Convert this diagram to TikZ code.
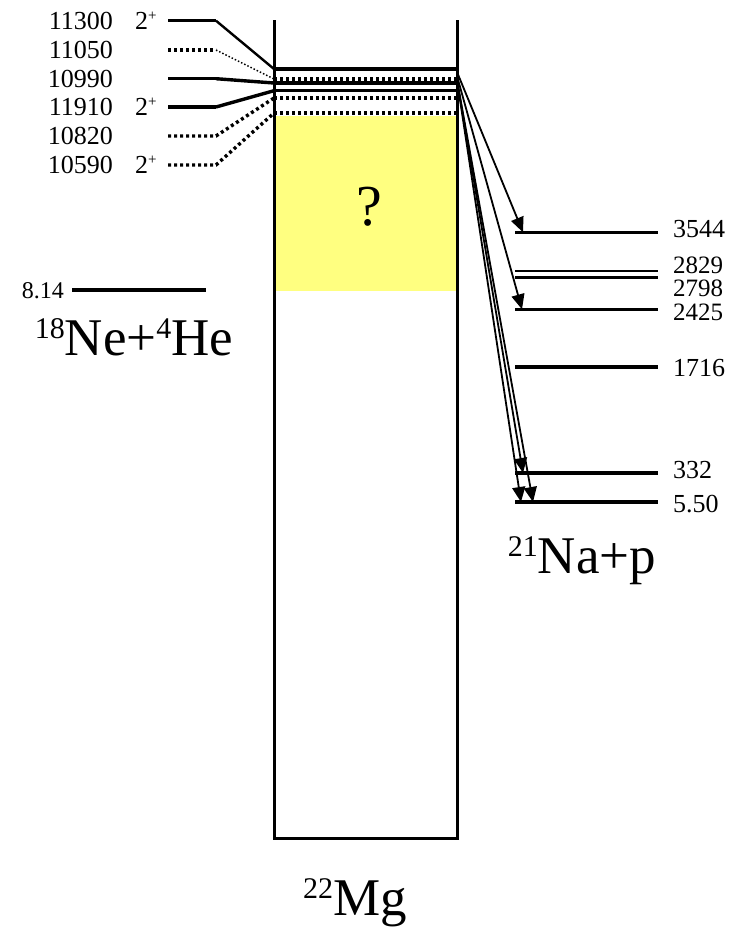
\documentclass[tikz,border=0pt]{standalone}
\usepackage{fontspec}
\setmainfont{Liberation Serif}
\usetikzlibrary{arrows.meta,positioning}
\definecolor{qyellow}{RGB}{255,255,128}
\newcommand{\fs}[1]{\fontsize{#1}{#1}\selectfont}
\newcommand{\iso}[2]{\raisebox{17pt}{\fs{30}#1}#2}
\newcommand{\spin}{2\raisebox{9pt}{\fs{15}+}}

\begin{document}
\begin{tikzpicture}[x=1pt, y=-1pt, every node/.style={inner sep=0pt},
  lvl/.style={line width=3.4pt},
  dlvl/.style={line width=3.4pt, dash pattern=on 3pt off 3pt},
  slant/.style={line width=2.4pt},
  wall/.style={line width=3pt},
  decay/.style={line width=1.8pt, -{Triangle[length=15pt,width=13pt]}},
  num/.style={font=\fs{26}, text height=18pt, text depth=0pt},
  big/.style={font=\fs{53}, anchor=base}]
\useasboundingbox (0,0) rectangle (742,927);

% 22Mg box
\coordinate (tl) at (274,20); \coordinate (bl) at (274,838);
\coordinate (br) at (457,838); \coordinate (tr) at (457,20);
\fill[qyellow] (274,116) rectangle (457,291);
\node[font=\fs{58}, anchor=base] (qmark) at (369,225) {?};
\draw[wall] (tl) -- (bl) -- (br) -- (tr);
\foreach \n/\y in {1/69,2/79,3/83,4/90.7,5/98,6/113}{
  \coordinate (m\n) at (274,\y); \coordinate (m\n r) at (457,\y);}
\draw[lvl] (m1) -- (m1r);
\draw[dlvl] (m2) -- (m2r);
\draw[lvl] (m3) -- (m3r);
\draw[lvl] (m4) -- (m4r);
\draw[dlvl] (m5) -- (m5r);
\draw[dlvl] (m6) -- (m6r);

% alpha-cluster states
\foreach \n/\y in {1/20.7,2/50,3/78.7,4/107,5/136,6/165}{
  \coordinate (k\n) at (168,\y); \coordinate (k\n e) at (216,\y);}
\draw[lvl] (k1) -- (k1e); \draw[slant] (k1e) -- (m1);
\draw[dlvl] (k2) -- (k2e); \draw[line width=1.5pt, dash pattern=on 1.5pt off 2pt] (k2e) -- (m2);
\draw[lvl] (k3) -- (k3e); \draw[lvl] (k3e) -- (m3);
\draw[lvl] (k4) -- (k4e); \draw[lvl] (k4e) -- (m4);
\draw[dlvl] (k5) -- (k5e) -- (m5);
\draw[dlvl] (k6) -- (k6e) -- (m6);
\node[num, anchor=base east] (e11300) at (113,29.3) {11300};
\node[num, anchor=base east] (e11050) at (113,58.6) {11050};
\node[num, anchor=base east] (e10990) at (113,87.3) {10990};
\node[num, anchor=base east] (e11910) at (113,115.6) {11910};
\node[num, anchor=base east] (e10820) at (113,144.6) {10820};
\node[num, anchor=base east] (e10590) at (113,173.6) {10590};
\node[num, anchor=base west] (j11300) at (135,29.3) {\spin};
\node[num, anchor=base west] (j11910) at (135,115.6) {\spin};
\node[num, anchor=base west] (j10590) at (135,173.6) {\spin};

% threshold
\coordinate (th1) at (72,290); \coordinate (th2) at (206,290);
\draw[lvl] (th1) -- (th2);
\node[font=\fs{24}, anchor=base east] (e814) at (64,298.5) {8.14};
\node[big] (nehe) at (134,355) {\iso{18}{Ne+}\iso{4}{He}};

% 21Na levels
\foreach \n/\y in {3544/232.3,2425/309.3,1716/367,332/473,550/502}{
  \coordinate (r\n) at (515,\y); \coordinate (r\n e) at (658,\y);
  \draw[lvl] (r\n) -- (r\n e);}
\foreach \n/\y in {2829/271,2798/277.7}{
  \coordinate (r\n) at (515,\y); \coordinate (r\n e) at (658,\y);
  \draw[line width=2.6pt] (r\n) -- (r\n e);}
\node[num, anchor=base west] (l3544) at (673,237) {3544};
\node[num, anchor=base west, font=\fs{25}] (l2829) at (673,273.5) {2829};
\node[num, anchor=base west, font=\fs{25}] (l2798) at (673,296) {2798};
\node[num, anchor=base west, font=\fs{25}] (l2425) at (673,320.5) {2425};
\node[num, anchor=base west] (l1716) at (673,376) {1716};
\node[num, anchor=base west] (l332) at (673,478) {332};
\node[num, anchor=base west] (l550) at (673,512) {5.50};
\node[big] (nap) at (582,573) {\iso{21}{Na+p}};
\node[big] (mg) at (355,915) {\iso{22}{Mg}};

% proton decays
\coordinate (s1) at (457,72); \coordinate (s2) at (457,76); \coordinate (s3) at (457,80);
\coordinate (h3544) at (523,232.3); \coordinate (h2425) at (522,309.3);
\coordinate (h332) at (523,473); \coordinate (h550a) at (521,502); \coordinate (h550b) at (533,502);
\draw[decay] (s1) -- (h3544);
\draw[decay] (s2) -- (h2425);
\draw[decay] (s3) -- (h332);
\draw[decay] (s3) -- (h550a);
\draw[decay] (s3) -- (h550b);
\end{tikzpicture}
\end{document}
